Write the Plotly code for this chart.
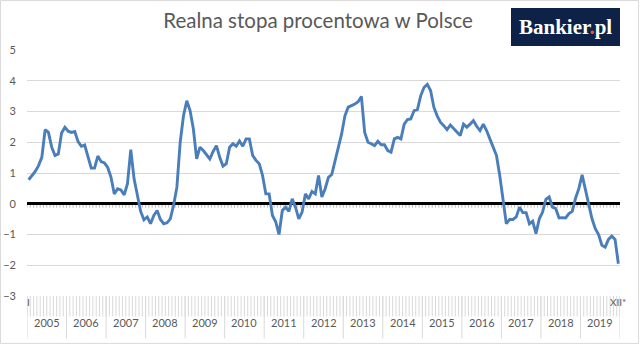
import plotly.graph_objects as go

# Monthly real interest rate in Poland, Jan 2005 - Dec 2019 (%)
years = list(range(2005, 2020))
real_rate = [
    0.78, 0.92, 1.05, 1.24, 1.51, 2.41, 2.32, 1.84, 1.57, 1.62, 2.30, 2.49,        # 2005
    2.36, 2.32, 2.35, 2.02, 1.87, 1.91, 1.57, 1.16, 1.16, 1.55, 1.37, 1.33,        # 2006
    1.18, 0.86, 0.32, 0.49, 0.45, 0.29, 0.65, 1.76, 0.81, 0.32, -0.25, -0.52,      # 2007
    -0.43, -0.65, -0.38, -0.22, -0.51, -0.65, -0.62, -0.49, -0.05, 0.54, 2.00, 2.86,  # 2008
    3.35, 3.03, 2.43, 1.46, 1.84, 1.73, 1.60, 1.46, 1.70, 1.89, 1.51, 1.22,        # 2009
    1.30, 1.84, 1.95, 1.87, 2.04, 1.87, 2.11, 2.11, 1.57, 1.41, 1.30, 0.92,        # 2010
    0.32, 0.32, -0.38, -0.59, -1.00, -0.22, -0.11, -0.25, 0.16, -0.11, -0.49, -0.27,  # 2011
    0.32, 0.16, 0.40, 0.32, 0.92, 0.22, 0.49, 0.86, 0.95, 1.41, 1.84, 2.27,        # 2012
    2.86, 3.14, 3.19, 3.24, 3.32, 3.49, 2.32, 2.00, 1.95, 1.89, 2.03, 1.92,        # 2013
    1.92, 1.73, 1.68, 2.11, 2.16, 2.11, 2.59, 2.74, 2.76, 3.03, 3.06, 3.51,        # 2014
    3.78, 3.88, 3.68, 3.14, 2.86, 2.65, 2.54, 2.41, 2.56, 2.45, 2.35, 2.22,        # 2015
    2.59, 2.49, 2.59, 2.70, 2.52, 2.38, 2.59, 2.38, 2.11, 1.84, 1.57, 0.92,        # 2016
    0.05, -0.65, -0.51, -0.51, -0.43, -0.11, -0.29, -0.29, -0.65, -0.57, -0.97, -0.49,  # 2017
    -0.27, 0.14, 0.22, -0.11, -0.16, -0.46, -0.45, -0.46, -0.32, -0.25, 0.18, 0.49,    # 2018
    0.94, 0.43, -0.05, -0.49, -0.81, -1.00, -1.35, -1.41, -1.16, -1.05, -1.16, -1.95,  # 2019
]
y_ticks = [5, 4, 3, 2, 1, 0, -1, -2, -3]
first_month_label = "I"
last_month_label = "XII*"
title_text = "Realna stopa procentowa w Polsce"

n = len(real_rate)
months = list(range(n))

# page geometry (pixels)
W, H = 640, 345
L, R, T, B = 27, 20, 50, 48.5
pw, ph = W - L - R, H - T - B
Y_MIN, Y_MAX = -3, 5


def paper_y(pix):
    return (H - B - pix) / ph


def paper_x(pix):
    return (pix - L) / pw


GRID = "#d9d9d9"
TEXT = "#595959"
FONT = "Lato"

fig = go.Figure()
fig.add_trace(go.Scatter(
    x=months, y=real_rate, mode="lines",
    line=dict(color="#4a7ebb", width=2.9),
    hoverinfo="skip", showlegend=False,
))

shapes = []
# outer chart frame
shapes.append(dict(type="rect", xref="paper", yref="paper",
                   x0=paper_x(0.5), x1=paper_x(638.5), y0=paper_y(344), y1=paper_y(0.5),
                   line=dict(color=GRID, width=1), fillcolor="rgba(0,0,0,0)", layer="below"))
# small tick marks along the zero axis
zero_paper = (0 - Y_MIN) / (Y_MAX - Y_MIN)
for i in range(n + 1):
    shapes.append(dict(type="line", xref="x", yref="paper",
                       x0=i - 0.5, x1=i - 0.5, y0=zero_paper, y1=zero_paper - 4 / ph,
                       line=dict(color="#bfbfbf", width=1), layer="below"))
# month ticks below the plot
for i in range(n + 1):
    shapes.append(dict(type="line", xref="x", yref="paper",
                       x0=i - 0.5, x1=i - 0.5, y0=0, y1=paper_y(317),
                       line=dict(color=GRID, width=1), layer="below"))
# year separators
for k in range(len(years) + 1):
    shapes.append(dict(type="line", xref="x", yref="paper",
                       x0=12 * k - 0.5, x1=12 * k - 0.5, y0=0, y1=paper_y(339),
                       line=dict(color=GRID, width=1), layer="below"))
# logo box
shapes.append(dict(type="rect", xref="paper", yref="paper",
                   x0=paper_x(511), x1=paper_x(620), y0=paper_y(46), y1=paper_y(8),
                   line=dict(width=0), fillcolor="#0e2146", layer="above"))

annotations = []
for k, yr in enumerate(years):
    annotations.append(dict(x=12 * k + 5.5, y=paper_y(332), xref="x", yref="paper",
                            text=str(yr), showarrow=False,
                            font=dict(family=FONT, size=11, color=TEXT)))
annotations.append(dict(x=0, y=paper_y(311), xref="x", yref="paper", text=first_month_label,
                        showarrow=False, font=dict(family=FONT, size=10, color=TEXT)))
annotations.append(dict(x=n - 1, y=paper_y(311), xref="x", yref="paper", text=last_month_label,
                        showarrow=False, font=dict(family=FONT, size=10, color=TEXT)))
annotations.append(dict(x=paper_x(565.5), y=paper_y(27), xref="paper", yref="paper",
                        xanchor="center", yanchor="middle",
                        text="<b>Bankier<span style='color:#e8552b'>.</span>pl</b>",
                        showarrow=False,
                        font=dict(family="Liberation Serif", size=21, color="white")))

fig.update_layout(
    width=W, height=H,
    margin=dict(l=L, r=R, t=T, b=B, autoexpand=False),
    paper_bgcolor="white", plot_bgcolor="white",
    title=dict(text=title_text, x=0.497, xanchor="center", y=1 - 21 / H, yanchor="middle",
               font=dict(family=FONT, size=20.5, color=TEXT)),
    xaxis=dict(range=[-0.5, n - 0.5], showgrid=False, zeroline=False, automargin=False,
               showticklabels=False, ticks="", showline=False, fixedrange=True),
    yaxis=dict(range=[Y_MIN, Y_MAX], tickvals=y_ticks, showgrid=True, automargin=False,
               gridcolor=GRID, gridwidth=1, zeroline=True, zerolinecolor="black",
               zerolinewidth=3, ticks="", showline=False, ticklabelstandoff=10,
               tickfont=dict(family=FONT, size=11, color=TEXT), fixedrange=True),
    shapes=shapes,
    annotations=annotations,
    showlegend=False,
)

fig.write_html("out.html")
